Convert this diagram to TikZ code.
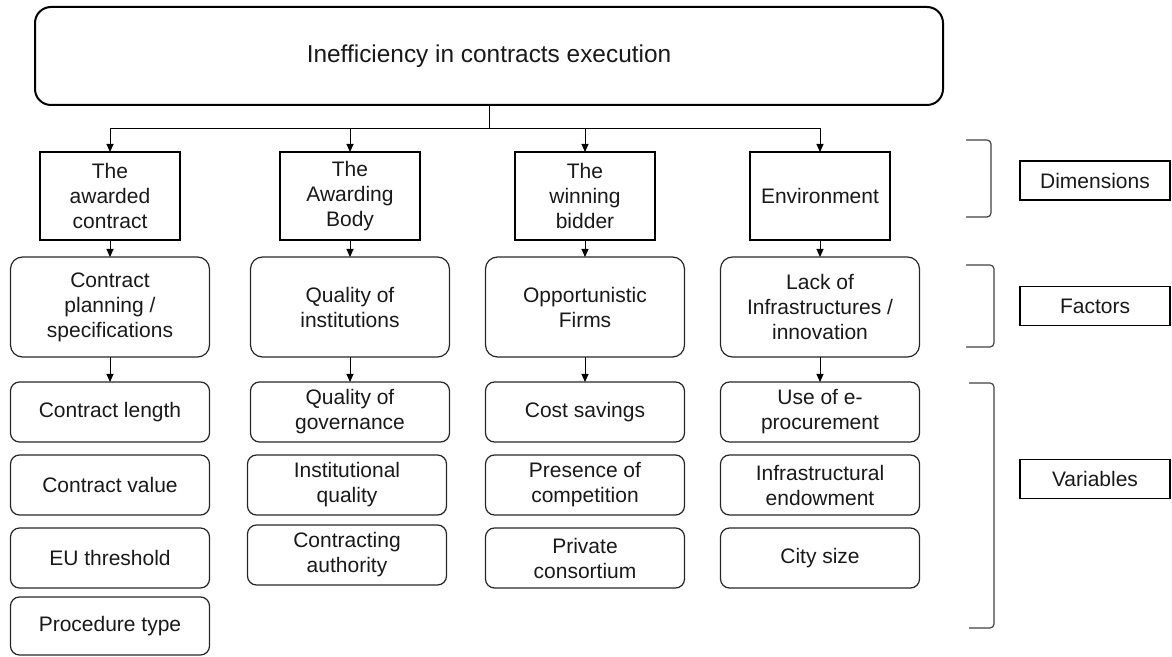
\documentclass[tikz,border=0pt]{standalone}
\usepackage{fontspec}
\setmainfont{Liberation Sans}
\usetikzlibrary{arrows.meta,positioning}

\begin{document}
\begin{tikzpicture}[x=1pt,y=1pt,font=\fontsize{10.5}{12.5}\selectfont,text=black!90]
	\useasboundingbox (0,0) rectangle (586,-328.5);

	\node[draw,rounded corners=8pt,line width=1pt,minimum width=454pt,minimum height=49pt,font=\fontsize{12.2}{14.5}\selectfont] (top) at (244.5,-28) {Inefficiency in contracts execution};

	% dimensions
	\begin{scope}[every node/.style={draw,line width=1pt,align=center,minimum width=70pt,minimum height=44pt,inner sep=2pt,outer sep=0pt}]
		\node (d1) at (55,-98) {The\\awarded\\contract};
		\node (d2) at (175,-98) {The\\Awarding\\Body};
		\node (d3) at (292.5,-98) {The\\winning\\bidder};
		\node (d4) at (410,-98) {Environment};
	\end{scope}

	% factors
	\begin{scope}[every node/.style={draw,black!85,text=black!90,rounded corners=6pt,line width=0.6pt,align=center,minimum width=99.5pt,minimum height=50pt,inner sep=2pt,outer sep=0pt}]
		\node[below =8.5pt of d1] (f1) {Contract\\planning /\\specifications};
		\node[below =8.5pt of d2] (f2) {Quality of\\institutions};
		\node[below =8.5pt of d3] (f3) {Opportunistic\\Firms};
		\node[below =8.5pt of d4] (f4) {Lack of\\Infrastructures /\\innovation};
	\end{scope}

	% variables
	\begin{scope}[every node/.style={draw,black!85,text=black!90,rounded corners=4.5pt,line width=0.6pt,align=center,minimum width=99.5pt,minimum height=30pt,inner sep=2pt,outer sep=0pt}]
		\node[below =12.5pt of f1] (v11) {Contract length};
		\node[below =6.5pt of v11] (v12) {Contract value};
		\node[below =6.5pt of v12] (v13) {EU threshold};
		\node[below =4.5pt of v13,minimum height=29pt] (v14) {Procedure type};

		\node[below =12.5pt of f2] (v21) {Quality of\\governance};
		\node[below =6.5pt of v21,xshift=-1.5pt] (v22) {Institutional\\quality};
		\node[below =5pt of v22] (v23) {Contracting\\authority};

		\node[below =12.5pt of f3] (v31) {Cost savings};
		\node[below =6.5pt of v31] (v32) {Presence of\\competition};
		\node[below =6.5pt of v32] (v33) {Private\\consortium};

		\node[below =12.5pt of f4] (v41) {Use of e-\\procurement};
		\node[below =6.5pt of v41] (v42) {Infrastructural\\endowment};
		\node[below =6.5pt of v42] (v43) {City size};
	\end{scope}

	% level labels
	\begin{scope}[every node/.style={draw,line width=0.6pt,minimum width=75pt,minimum height=19.5pt}]
		\node (dim) at (547.5,-90.25) {Dimensions};
		\node (fac) at (547.5,-153) {Factors};
		\node (var) at (547.5,-239.5) {Variables};
	\end{scope}

	\begin{scope}[black!75,line width=0.6pt,rounded corners=2pt]
		\draw (483,-70) -- (495.5,-70) -- (495.5,-108.5) -- (483,-108.5);
		\draw (483,-132.5) -- (497,-132.5) -- (497,-173.5) -- (483,-173.5);
		\draw (484.5,-191.5) -- (497,-191.5) -- (497,-314) -- (484.5,-314);
	\end{scope}

	\begin{scope}[line width=0.5pt,-{Triangle[length=4pt,width=3.5pt]}]
		\draw[-] (top.south) -- ++(0,-11.5) coordinate (split);
		\foreach \d in {d1,d2,d3,d4}
			\draw (split) -| (\d.north);
		\draw (d1) -- (f1);
		\draw (d2) -- (f2);
		\draw (d3) -- (f3);
		\draw (d4) -- (f4);
		\draw (f1) -- (v11);
		\draw (f2) -- (v21);
		\draw (f3) -- (v31);
		\draw (f4) -- (v41);
	\end{scope}
\end{tikzpicture}
\end{document}
